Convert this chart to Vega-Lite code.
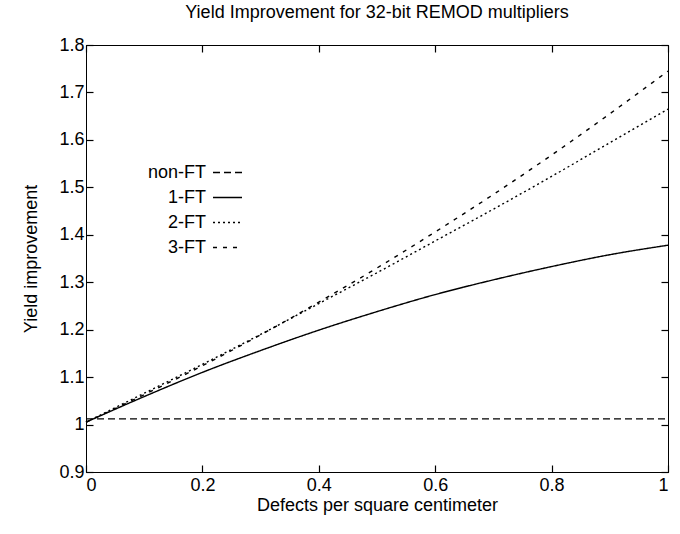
{
  "$schema": "https://vega.github.io/schema/vega-lite/v6.json",
  "width": 582,
  "height": 427,
  "autosize": {"type": "none"},
  "padding": {"left": 86, "top": 45, "right": 12, "bottom": 62},
  "background": "white",
  "config": {
    "font": "Liberation Sans",
    "view": {"stroke": "black", "strokeWidth": 1},
    "axis": {
      "grid": false,
      "domainColor": "black",
      "tickColor": "black",
      "tickWidth": 1.2,
      "labelColor": "black",
      "titleColor": "black",
      "labelFontSize": 18,
      "titleFontSize": 18,
      "titleFontWeight": "normal",
      "labelFont": "Liberation Sans",
      "titleFont": "Liberation Sans"
    }
  },
  "title": {
    "text": "Yield Improvement for 32-bit REMOD multipliers",
    "fontSize": 18,
    "fontWeight": "normal",
    "font": "Liberation Sans",
    "color": "black",
    "anchor": "middle",
    "offset": 14
  },
  "data": {
    "values": [
      {"defects": 0.0, "improvement": 1.012, "series": "non-FT"},
      {"defects": 1.0, "improvement": 1.012, "series": "non-FT"},
      {"defects": 0.0, "improvement": 1.005, "series": "1-FT"},
      {"defects": 0.1, "improvement": 1.059, "series": "1-FT"},
      {"defects": 0.2, "improvement": 1.110, "series": "1-FT"},
      {"defects": 0.3, "improvement": 1.156, "series": "1-FT"},
      {"defects": 0.4, "improvement": 1.199, "series": "1-FT"},
      {"defects": 0.5, "improvement": 1.238, "series": "1-FT"},
      {"defects": 0.6, "improvement": 1.274, "series": "1-FT"},
      {"defects": 0.7, "improvement": 1.305, "series": "1-FT"},
      {"defects": 0.8, "improvement": 1.333, "series": "1-FT"},
      {"defects": 0.9, "improvement": 1.358, "series": "1-FT"},
      {"defects": 1.0, "improvement": 1.378, "series": "1-FT"},
      {"defects": 0.0, "improvement": 1.005, "series": "2-FT"},
      {"defects": 0.1, "improvement": 1.066, "series": "2-FT"},
      {"defects": 0.2, "improvement": 1.127, "series": "2-FT"},
      {"defects": 0.3, "improvement": 1.190, "series": "2-FT"},
      {"defects": 0.4, "improvement": 1.255, "series": "2-FT"},
      {"defects": 0.5, "improvement": 1.320, "series": "2-FT"},
      {"defects": 0.6, "improvement": 1.387, "series": "2-FT"},
      {"defects": 0.7, "improvement": 1.454, "series": "2-FT"},
      {"defects": 0.8, "improvement": 1.523, "series": "2-FT"},
      {"defects": 0.9, "improvement": 1.594, "series": "2-FT"},
      {"defects": 1.0, "improvement": 1.665, "series": "2-FT"},
      {"defects": 0.0, "improvement": 1.005, "series": "3-FT"},
      {"defects": 0.1, "improvement": 1.063, "series": "3-FT"},
      {"defects": 0.2, "improvement": 1.124, "series": "3-FT"},
      {"defects": 0.3, "improvement": 1.189, "series": "3-FT"},
      {"defects": 0.4, "improvement": 1.258, "series": "3-FT"},
      {"defects": 0.5, "improvement": 1.330, "series": "3-FT"},
      {"defects": 0.6, "improvement": 1.406, "series": "3-FT"},
      {"defects": 0.7, "improvement": 1.485, "series": "3-FT"},
      {"defects": 0.8, "improvement": 1.568, "series": "3-FT"},
      {"defects": 0.9, "improvement": 1.655, "series": "3-FT"},
      {"defects": 1.0, "improvement": 1.745, "series": "3-FT"}
    ]
  },
  "layer": [
    {
      "mark": {"type": "line", "color": "black", "strokeWidth": 1.4, "interpolate": "monotone"},
      "encoding": {
        "x": {
          "field": "defects", "type": "quantitative",
          "scale": {"domain": [0, 1], "nice": false},
          "axis": {"values": [0, 0.2, 0.4, 0.6, 0.8, 1], "format": ".2~f", "tickSize": -7, "labelPadding": 11, "title": "Defects per square centimeter", "titlePadding": 2}
        },
        "y": {
          "field": "improvement", "type": "quantitative",
          "scale": {"domain": [0.9, 1.8], "nice": false, "zero": false},
          "axis": {"values": [0.9, 1.0, 1.1, 1.2, 1.3, 1.4, 1.5, 1.6, 1.7, 1.8], "format": ".2~f", "tickSize": -7, "labelPadding": 9, "title": "Yield improvement", "titlePadding": 18}
        },
        "strokeDash": {
          "field": "series", "type": "nominal",
          "scale": {"domain": ["non-FT", "1-FT", "2-FT", "3-FT"], "range": [[7, 4], [1, 0], [2, 3], [4, 6]]},
          "legend": {
            "orient": "none", "legendX": 126, "legendY": 112, "title": null,
            "symbolType": "stroke", "symbolSize": 841, "symbolStrokeColor": "black", "symbolStrokeWidth": 1.4, "symbolOpacity": 1,
            "labelAlign": "right", "labelOffset": -37, "labelFontSize": 18, "labelColor": "black", "labelFont": "Liberation Sans",
            "rowPadding": -3
          }
        }
      }
    },
    {
      "mark": {"type": "line", "strokeOpacity": 0},
      "encoding": {
        "x": {"field": "defects", "type": "quantitative", "axis": {"orient": "top", "labels": false, "title": null, "tickSize": -7, "values": [0, 0.2, 0.4, 0.6, 0.8, 1]}},
        "y": {"field": "improvement", "type": "quantitative", "axis": {"orient": "right", "labels": false, "title": null, "tickSize": -7, "values": [0.9, 1.0, 1.1, 1.2, 1.3, 1.4, 1.5, 1.6, 1.7, 1.8]}},
        "detail": {"field": "series", "type": "nominal"}
      }
    }
  ],
  "resolve": {"axis": {"x": "independent", "y": "independent"}}
}
